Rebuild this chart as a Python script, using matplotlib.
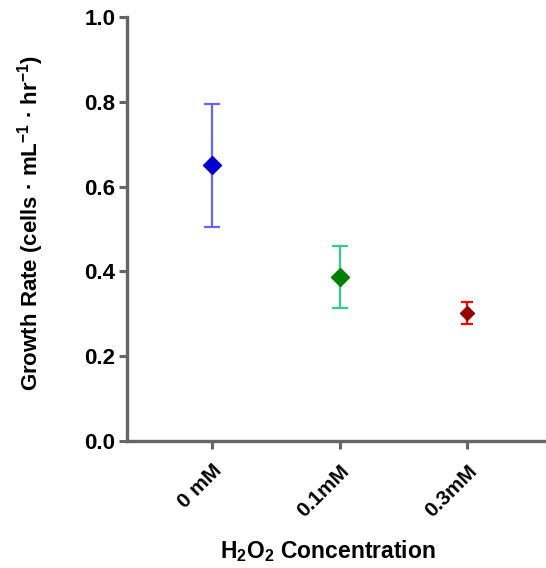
import matplotlib
matplotlib.use("Agg")
import matplotlib.pyplot as plt

categories = ["0 mM", "0.1mM", "0.3mM"]
means = [0.65, 0.386, 0.302]
errors = [0.145, 0.073, 0.025]
marker_colors = ["#0000CC", "#008000", "#990000"]
err_colors = ["#6666FF", "#33CC88", "#FF0000"]
marker_sizes = [9, 9, 7.5]
cap_sizes = [5.5, 5.5, 4.5]

plt.rcParams['font.family'] = ['Liberation Sans', 'DejaVu Sans']
plt.rcParams['mathtext.fontset'] = 'custom'
plt.rcParams['mathtext.rm'] = 'Liberation Sans:bold'
plt.rcParams['mathtext.bf'] = 'Liberation Sans:bold'
plt.rcParams['mathtext.it'] = 'Liberation Sans:bold'
fig = plt.figure(figsize=(5.46, 5.68), dpi=100)
ax = fig.add_axes([0.2326, 0.2236, 0.7674, 0.7464])

x = list(range(len(categories)))
for i in x:
    ax.errorbar(x[i], means[i], yerr=errors[i], fmt='none', ecolor=err_colors[i],
                elinewidth=1.6, capsize=cap_sizes[i], capthick=1.6, zorder=2)
    ax.plot(x[i], means[i], marker='D', color=marker_colors[i], markersize=marker_sizes[i],
            zorder=3, linestyle='none')

ax.set_xlim(-0.67, 2.62)
ax.set_ylim(0, 1.0)
yt = [0, 0.2, 0.4, 0.6, 0.8, 1.0]
ax.set_yticks(yt)
ax.set_yticklabels([f"{v:.1f}" for v in yt], fontsize=16, fontweight='bold')
ax.set_xticks(x)
ax.set_xticklabels(categories, rotation=45, ha='right', rotation_mode='anchor', fontsize=15, fontweight='bold')

for s in ['top', 'right']:
    ax.spines[s].set_visible(False)
for s in ['left', 'bottom']:
    ax.spines[s].set_color('#666666')
    ax.spines[s].set_linewidth(2.4)
ax.tick_params(axis='both', direction='out', length=5.5, width=2.2, color='#666666')
ax.tick_params(axis='y', pad=3)
ax.tick_params(axis='x', pad=9)

ax.set_ylabel("Growth Rate (cells · mL$^{-1}$ · hr$^{-1}$)", fontsize=16, fontweight='bold')
ax.yaxis.set_label_coords(-0.194, 0.515)
ax.set_xlabel("H$_2$O$_2$ Concentration", fontsize=16.5, fontweight='bold')
ax.xaxis.set_label_coords(0.48, -0.228)

fig.savefig("out.png", dpi=100)
